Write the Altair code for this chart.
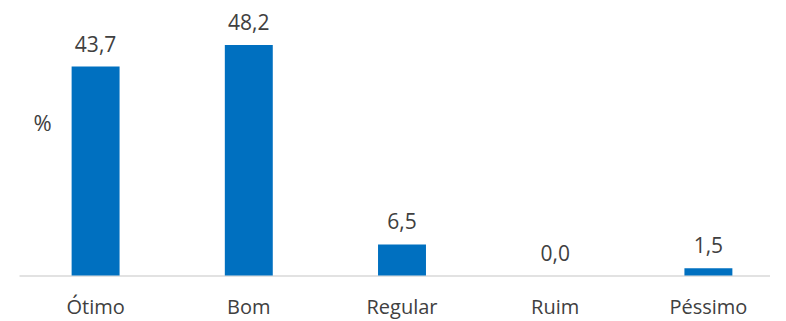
import altair as alt
import pandas as pd

categories = ["Ótimo", "Bom", "Regular", "Ruim", "Péssimo"]
values = [43.7, 48.2, 6.5, 0.0, 1.5]
labels = ["43,7", "48,2", "6,5", "0,0", "1,5"]

df = pd.DataFrame({"cat": categories, "val": values, "lab": labels})

FONT = "Open Sans"
TXT = "#404040"

xscale = alt.Scale(paddingInner=0.687, paddingOuter=0.3435, range=[0, 766])
x = alt.X("cat:N", sort=categories, scale=xscale,
          axis=alt.Axis(title=None, labelAngle=0, labelFont=FONT, labelFontSize=20,
                        labelColor=TXT, ticks=False, domainColor="#d9d9d9",
                        domainWidth=1.5, labelPadding=22))
y = alt.Y("val:Q", scale=alt.Scale(domain=[0, 55], nice=False),
          axis=alt.Axis(title="%", titleAngle=0, titleFont=FONT, titleFontSize=22,
                        titleFontWeight="normal", titleColor=TXT, titleX=23, titleY=123,
                        labels=False, ticks=False, domain=False, grid=False))

bars = alt.Chart(df).mark_bar(color="#0070C0").encode(x=x, y=y)
text = alt.Chart(df).mark_text(dy=-21, font=FONT, fontSize=21, color=TXT).encode(
    x=alt.X("cat:N", sort=categories), y="val:Q", text="lab:N")

chart = alt.layer(bars, text).properties(
    width=751, height=263, autosize=alt.AutoSizeParams(type="none"),
    padding={"left": 11, "top": 4.5, "right": 0, "bottom": 45}
).configure_view(stroke=None)

chart.save("out.html", embed_options={"renderer": "svg", "actions": False})
